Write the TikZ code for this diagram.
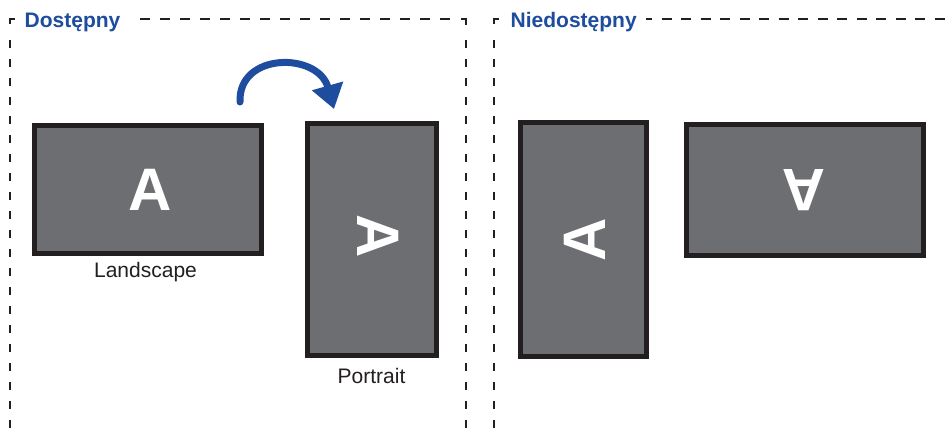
\documentclass[tikz,border=0pt]{standalone}
\usepackage{fontspec}
\setmainfont{Liberation Sans}
\usetikzlibrary{arrows.meta}
\definecolor{scr}{HTML}{6D6E71}
\definecolor{frm}{HTML}{231F20}
\definecolor{blu}{HTML}{1E4C9E}
\begin{document}
\begin{tikzpicture}[x=1pt,y=-1pt,
  screen/.style={draw=frm,fill=scr,line width=5pt,inner sep=0pt},
  letter/.style={text=white,font=\bfseries\fontsize{60}{60}\selectfont,inner sep=0pt},
  caption/.style={font=\fontsize{21}{25}\selectfont,text=frm,inner sep=0pt,anchor=base},
  title/.style={font=\bfseries\fontsize{21}{25}\selectfont,text=blu,inner sep=0pt,anchor=base west},
  dashv/.style={draw=frm,line width=2.6pt,dash pattern=on 8pt off 11pt},
  dashh/.style={draw=frm,line width=2.6pt,dash pattern=on 10pt off 10pt},
  cornermark/.style={draw=frm,line width=2.6pt},
  rotarrow/.style={draw=blu,line width=7pt,line cap=round,-{Triangle[length=24pt,width=31pt]}}
]
\useasboundingbox (0,0) rectangle (951,429);
\fill[white] (0,0) rectangle (951,429);

% dashed frames
\draw[cornermark] (10,24) -- (10,19) -- (15,19);
\draw[dashv] (10,40) -- (10,440);
\draw[dashh] (140,19) -- (450,19);
\draw[cornermark] (461,19) -- (466,19) -- (466,25);
\draw[dashv] (466,40) -- (466,440);
\draw[cornermark] (494,24) -- (494,19) -- (499,19);
\draw[dashv] (494,40) -- (494,440);
\draw[dashh,dash pattern=on 10pt off 9.5pt,dash phase=4pt] (646,19) -- (960,19);

\node[title] (t1) at (24.5,27) {Dostępny};
\node[title] (t2) at (510.5,27) {Niedostępny};

% screens
\node[screen,minimum width=227pt,minimum height=128pt] (s1) at (148,189.5) {};
\node[screen,minimum width=129pt,minimum height=232pt] (s2) at (372,239.5) {};
\node[screen,minimum width=126pt,minimum height=234pt] (s3) at (583.5,239.5) {};
\node[screen,minimum width=237pt,minimum height=131pt] (s4) at (805,190) {};

\node[letter] (a1) at (150,190) {A};
\node[letter,rotate=-90] (a2) at (378.5,236) {A};
\node[letter,rotate=90] (a3) at (585,240) {A};
\node[letter,rotate=180] (a4) at (804,190) {A};

\node[caption] (c1) at (145.5,277) {Landscape};
\node[caption] (c2) at (371.5,383) {Portrait};

% rotation arrow
\coordinate (r1) at (240,102);
\coordinate (r2) at (334,109);
\draw[rotarrow] (r1) .. controls (238,52) and (318,52) .. (r2);
\end{tikzpicture}
\end{document}
